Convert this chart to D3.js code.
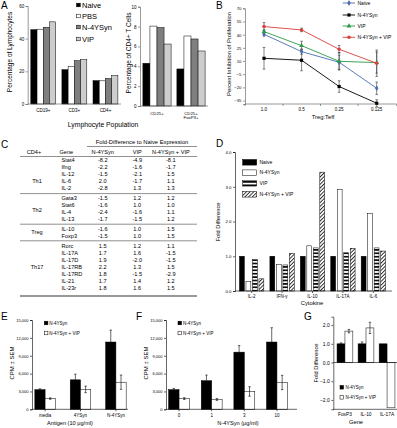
<!DOCTYPE html>
<html>
<head>
<meta charset="utf-8">
<script src="https://cdn.jsdelivr.net/npm/d3@7"></script>
<style>
body{margin:0;background:#fff}
svg text{font-family:"Liberation Sans",Arial,sans-serif;fill:#000}
</style>
</head>
<body>
<svg id="fig" width="397" height="428"></svg>
<script>
// ---- data ----
const aSeries = ["Naive","PBS","N-4YSyn","VIP"];
const lymphCats = ["CD19+","CD3+","CD4+"];
const lymNaive = [45.5,21,14.3];
const lymPBS = [45.8,23,14.2];
const lymN4 = [47,26.5,15.6];
const lymVIP = [50.3,27.1,17.4];
const cd4Cats = ["CD25+","CD25+ FoxP3+"];
const cd4Naive = [4.3,3.73];
const cd4PBS = [8.05,7.05];
const cd4N4 = [7.9,6.75];
const cd4VIP = [6.24,5.54];

const ratios = ["1.0","0.5","0.25","0.125"];
const bSeries = ["Naive","N-4YSyn","VIP","N-4YSyn + VIP"];
const inhNaive = [40.4,20.7,8.6,-21];
const inhN4 = [13.1,10.9,-19,-38];
const inhVIP = [43.5,27.5,9.7,8.2];
const inhCombo = [49.2,45.4,23.4,7.5];
const errNaive = [2,3,8,7];
const errN4 = [12.3,12,6.6,4];
const errVIP = [2,5,10,12];
const errCombo = [4.5,2,4.3,15];

const cols = ["N-4YSyn","VIP","N-4YSyn + VIP"];
const groupNames = ["Th1","Th2","Treg","Th17"];
const genes = [["Stat4","Ifng","IL-12","IL-6","IL-2"],["Gata3","Stat6","IL-4","IL-13"],["IL-10","Foxp3"],
  ["Rorc","IL-17A","IL-17D","IL-17RB","IL-17RD","IL-21","IL-23r"]];
const foldN4 = ["-8.2","-2.2","-1.5","2.0","-2.8","-1.5","-1.6","-2.4","-1.7","-1.6","-1.5","1.5","1.7","1.9","2.2","1.8","1.7","1.8"];
const foldVIP = ["-4.9","-1.6","-2.1","-1.7","1.3","1.2","1.0","-1.6","-1.5","1.0","1.0","1.2","1.6","-2.0","1.3","-1.5","1.4","1.6"];
const foldCombo = ["-8.1","-1.7","1.5","1.1","1.3","1.2","1.0","1.1","1.2","1.5","1.5","1.1","-1.5","-1.5","1.5","-2.9","1.2","1.5"];

const cytokines = ["IL-2","IFN-γ","IL-10","IL-17A","IL-6"];
const dSeries = ["Naive","N-4YSyn","VIP","N-4YSyn + VIP"];
const cytNaive = [1,1,1,1,1];
const cytN4 = [0.28,0.77,1.3,2.92,2.23];
const cytVIP = [0.9,0.75,1.24,1.1,1.24];
const cytCombo = [0.35,1.08,3.42,1.23,1.15];

const efSeries = ["N-4YSyn","N-4YSyn + VIP"];
const antigens = ["media","4YSyn","N-4YSyn"];
const cpmN4E = [3300,4950,11300], semN4E = [150,950,2000];
const cpmComboE = [1800,3350,4550], semComboE = [120,550,1200];
const doses = ["0","1","3","10"];
const cpmN4F = [3300,4800,9600,11300], semN4F = [200,950,1100,2400];
const cpmComboF = [1800,1650,3000,4500], semComboF = [150,150,800,1200];

const gGenes = ["FoxP3","IL-10","IL-17A"];
const gN4 = [1.0,1.0,1.0], gN4Err = [0.05,0.1,0];
const gCombo = [1.68,1.85,-2.42], gComboErr = [0.09,0.3,0];

// ---- drawing ----
const svg = d3.select("#fig");
const defs = svg.append("defs");
const hs = defs.append("pattern").attr("id","hstripe").attr("patternUnits","userSpaceOnUse").attr("width",4).attr("height",3.4);
hs.append("rect").attr("width",4).attr("height",3.4).attr("fill","#fff");
hs.append("rect").attr("y",0.9).attr("width",4).attr("height",1.6).attr("fill","#000");
const hp = defs.append("pattern").attr("id","hatch").attr("patternUnits","userSpaceOnUse").attr("width",2.6).attr("height",2.6).attr("patternTransform","rotate(45)");
hp.append("rect").attr("width",2.6).attr("height",2.6).attr("fill","#fff");
hp.append("line").attr("x1",0.5).attr("y1",0).attr("x2",0.5).attr("y2",2.6).attr("stroke","#000").attr("stroke-width",0.8);

function txt(x,y,s,fs,anchor,rot){
  const t = svg.append("text").attr("x",x).attr("y",y).attr("dy","0.35em")
    .style("font-size",fs+"px").attr("text-anchor",anchor||"start").text(s);
  if(rot) t.attr("transform","rotate("+rot+","+x+","+y+")");
  return t;
}
function hline(x1,x2,y,col,w){ svg.append("line").attr("x1",x1).attr("x2",x2).attr("y1",y).attr("y2",y).attr("stroke",col||"#000").attr("stroke-width",w||0.6); }
function styleAxis(g,fs,col){
  g.attr("font-family",null).attr("font-size",null);
  g.selectAll("text").style("font-size",fs+"px");
  g.selectAll("path,line").attr("stroke",col).attr("stroke-width",0.6);
}
function leftAxis(scale,x,ticks,fs,fmt,col){
  const ax = d3.axisLeft(scale).tickValues(ticks).tickSize(2).tickPadding(1.5);
  if(fmt) ax.tickFormat(fmt);
  const g = svg.append("g").attr("transform","translate("+x+",0)").call(ax);
  styleAxis(g,fs,col||"#000");
  return g;
}
function panelLetter(x,y,s){ txt(x,y,s,10,"start"); }

// Panel A left
panelLetter(1,5,"A");
const aFill = ["#000","#fff","#7f7f7f","#cdcdcd"];
const xA = d3.scaleBand().domain(lymphCats).range([27.7,121]).paddingInner(0.2).paddingOuter(0.1);
const xAin = d3.scaleBand().domain(aSeries).range([0,xA.bandwidth()]);
const yA = d3.scaleLinear().domain([0,60]).range([104,6]);
[lymNaive,lymPBS,lymN4,lymVIP].forEach((vals,i)=>{
  svg.append("g").selectAll("rect").data(vals).join("rect")
    .attr("x",(d,j)=>xA(lymphCats[j])+xAin(aSeries[i])).attr("width",xAin.bandwidth())
    .attr("y",d=>yA(d)).attr("height",d=>yA(0)-yA(d))
    .attr("fill",aFill[i]).attr("stroke","#000").attr("stroke-width",0.5);
});
leftAxis(yA,27.7,[0,20,40,60],4.5,null,"#555");
hline(27.7,121,104,"#555");
lymphCats.forEach(c=>txt(xA(c)+xA.bandwidth()/2,110.5,c,4.5,"middle"));
txt(10,52,"Percentage of Lymphocytes",6.5,"middle",-90);
txt(103,125,"Lymphocyte Population",6.8,"middle");
aSeries.forEach((s,i)=>{
  const y = [5,16,27,39][i];
  svg.append("rect").attr("x",76.5).attr("y",y-1.8).attr("width",3.8).attr("height",3.6)
    .attr("fill",aFill[i]).attr("stroke","#000").attr("stroke-width",0.5);
  txt(82,y,s,7.5,"start");
});

// Panel A right
const xA2 = d3.scaleBand().domain(cd4Cats).range([140,208]).paddingInner(0.17).paddingOuter(0.085);
const xA2in = d3.scaleBand().domain(aSeries).range([0,xA2.bandwidth()]);
const yA2 = d3.scaleLinear().domain([0,10]).range([106,6.7]);
[cd4Naive,cd4PBS,cd4N4,cd4VIP].forEach((vals,i)=>{
  svg.append("g").selectAll("rect").data(vals).join("rect")
    .attr("x",(d,j)=>xA2(cd4Cats[j])+xA2in(aSeries[i])).attr("width",xA2in.bandwidth())
    .attr("y",d=>yA2(d)).attr("height",d=>yA2(0)-yA2(d))
    .attr("fill",aFill[i]).attr("stroke","#000").attr("stroke-width",0.5);
});
leftAxis(yA2,140,[0,2,4,6,8,10],4.5,null,"#555");
hline(140,208,106,"#555");
txt(xA2(cd4Cats[0])+xA2.bandwidth()/2,113,"CD25+",4.3,"middle");
txt(xA2(cd4Cats[1])+xA2.bandwidth()/2,113,"CD25+",4.3,"middle");
txt(xA2(cd4Cats[1])+xA2.bandwidth()/2,117.5,"FoxP3+",4.3,"middle");
txt(128.5,53,"Percentage of CD4+ T Cells",6.5,"middle",-90);

// Panel B
panelLetter(216,5,"B");
const bColors = ["#4a6cb3","#000","#2a9a47","#d8403a"];
const bSymbols = [d3.symbolDiamond,d3.symbolSquare,d3.symbolTriangle,d3.symbolCircle];
const xB = d3.scalePoint().domain(ratios).range([264,376.7]);
const yB = d3.scaleLinear().domain([-38.9,70]).range([104,8.3]);
leftAxis(yB,245,[-35,-20,-5,10,25,40,55,70],4.3,null,"#555");
hline(245,396.7,104,"#555");
[245,283,320.5,358,396.7].forEach(x=>svg.append("line").attr("x1",x).attr("x2",x).attr("y1",104).attr("y2",106).attr("stroke","#555").attr("stroke-width",0.6));
ratios.forEach(r=>txt(xB(r),109.5,r,4.5,"middle"));
txt(323,116.5,"Treg:Teff",5.8,"middle");
txt(228.5,54,"Percent Inhibition of Proliferation",5.8,"middle",-90);
const bVals = [inhNaive,inhN4,inhVIP,inhCombo];
const bErrs = [errNaive,errN4,errVIP,errCombo];
bVals.forEach((vals,i)=>{
  vals.forEach((v,j)=>{
    const x = xB(ratios[j]), e = bErrs[i][j];
    const g = svg.append("g").attr("stroke","#333").attr("stroke-width",0.6);
    g.append("line").attr("x1",x).attr("x2",x).attr("y1",yB(v-e)).attr("y2",yB(v+e));
    g.append("line").attr("x1",x-1.3).attr("x2",x+1.3).attr("y1",yB(v-e)).attr("y2",yB(v-e));
    g.append("line").attr("x1",x-1.3).attr("x2",x+1.3).attr("y1",yB(v+e)).attr("y2",yB(v+e));
  });
});
const lineB = d3.line().x((d,j)=>xB(ratios[j])).y(d=>yB(d));
bVals.forEach((vals,i)=>{
  svg.append("path").datum(vals).attr("d",lineB).attr("fill","none").attr("stroke",bColors[i]).attr("stroke-width",0.9);
  svg.append("g").selectAll("path").data(vals).join("path")
    .attr("d",d3.symbol().type(bSymbols[i]).size(10))
    .attr("transform",(d,j)=>"translate("+xB(ratios[j])+","+yB(d)+")")
    .attr("fill",bColors[i]);
});
bSeries.forEach((s,i)=>{
  const y = [3,15,26,37.3][i];
  svg.append("line").attr("x1",342.7).attr("x2",355).attr("y1",y).attr("y2",y).attr("stroke",bColors[i]).attr("stroke-width",0.9);
  svg.append("path").attr("d",d3.symbol().type(bSymbols[i]).size(10)).attr("transform","translate(349,"+y+")").attr("fill",bColors[i]);
  txt(357.5,y,s,5,"start");
});

// Panel C (table)
panelLetter(1,144,"C");
txt(142,142,"Fold-Difference to Naive Expression",5.8,"middle");
hline(87,197,146.5,"#444");
txt(34,152,"CD4+",5.6,"middle");
txt(59.5,152,"Gene",5.6,"start");
const colX = [102.7,137.2,170.8];
cols.forEach((c,k)=>txt(colX[k],152,c,5.6,"middle"));
hline(20,197,156.5,"#444");
const rowY = [160,167.1,174.2,181.3,188.3,198.3,205.1,212.1,219,229,235.8,246,252.9,260,267,274.2,281.3,288.5];
const groupY = [181.5,210,232.5,267];
const sepY = [193.6,224.2,240.8];
const foldCols = [foldN4,foldVIP,foldCombo];
let r = 0;
genes.forEach((gs,gi)=>{
  txt(37,groupY[gi],groupNames[gi],5.6,"middle");
  gs.forEach(g=>{
    txt(61.5,rowY[r],g,5.6,"start");
    foldCols.forEach((fc,k)=>txt(colX[k],rowY[r],fc[r],5.6,"middle"));
    r++;
  });
  if(gi<sepY.length) hline(20,197,sepY[gi],"#444");
});
hline(20,197,296,"#333",1.1);

// Panel D
panelLetter(216,143,"D");
const dFill = ["#000","#fff","url(#hstripe)","url(#hatch)"];
const xD = d3.scaleBand().domain(cytokines).range([234,391]).paddingInner(0.2).paddingOuter(0.18);
const xDin = d3.scaleBand().domain(dSeries).range([0,xD.bandwidth()]).paddingInner(0.25);
const yD = d3.scaleLinear().domain([0,4]).range([291,152]);
[cytNaive,cytN4,cytVIP,cytCombo].forEach((vals,i)=>{
  svg.append("g").selectAll("rect").data(vals).join("rect")
    .attr("x",(d,j)=>xD(cytokines[j])+xDin(dSeries[i])).attr("width",xDin.bandwidth())
    .attr("y",d=>yD(d)).attr("height",d=>yD(0)-yD(d))
    .attr("fill",dFill[i]).attr("stroke","#000").attr("stroke-width",0.5);
});
leftAxis(yD,235,[0,1,2,3,4],4.3);
hline(235,392,291);
cytokines.forEach(c=>{
  const x = xD(c)+xD.bandwidth()/2;
  svg.append("line").attr("x1",x).attr("x2",x).attr("y1",291).attr("y2",293).attr("stroke","#000").attr("stroke-width",0.6);
  txt(x,296,c,4.5,"middle");
});
txt(312,303,"Cytokine",5.8,"middle");
txt(218,222,"Fold Difference",5.8,"middle",-90);
dSeries.forEach((s,i)=>{
  const y = [162.3,172.7,183.3,194.3][i];
  svg.append("rect").attr("x",242.7).attr("y",y-2.8).attr("width",14).attr("height",5.6)
    .attr("fill",dFill[i]).attr("stroke","#000").attr("stroke-width",0.5);
  txt(259.5,y,s,5,"start");
});

// Panels E and F
const yEF = d3.scaleLinear().domain([0,15000]).range([409.3,320]);
function cpmPanel(letterX,axisX,axisEnd,cats,range,pad,v1,e1,v2,e2,title,titleX,legX){
  panelLetter(letterX,316,letterX<100?"E":"F");
  const x = d3.scaleBand().domain(cats).range(range).paddingInner(pad).paddingOuter(0.08);
  const xin = d3.scaleBand().domain(efSeries).range([0,x.bandwidth()]);
  [[v1,e1],[v2,e2]].forEach(([vals,errs],i)=>{
    svg.append("g").selectAll("rect").data(vals).join("rect")
      .attr("x",(d,j)=>x(cats[j])+xin(efSeries[i])).attr("width",xin.bandwidth())
      .attr("y",d=>yEF(d)).attr("height",d=>yEF(0)-yEF(d))
      .attr("fill",i?"#fff":"#000").attr("stroke","#000").attr("stroke-width",0.5);
    vals.forEach((v,j)=>{
      const cx = x(cats[j])+xin(efSeries[i])+xin.bandwidth()/2;
      const g = svg.append("g").attr("stroke","#000").attr("stroke-width",0.6);
      g.append("line").attr("x1",cx).attr("x2",cx).attr("y1",yEF(v-(i?errs[j]:0))).attr("y2",yEF(v+errs[j]));
      g.append("line").attr("x1",cx-1.2).attr("x2",cx+1.2).attr("y1",yEF(v+errs[j])).attr("y2",yEF(v+errs[j]));
      if(i) g.append("line").attr("x1",cx-1.2).attr("x2",cx+1.2).attr("y1",yEF(v-errs[j])).attr("y2",yEF(v-errs[j]));
    });
  });
  leftAxis(yEF,axisX,[0,3000,6000,9000,12000,15000],4);
  hline(axisX,axisEnd,409.3);
  cats.forEach(c=>{
    const cx = x(c)+x.bandwidth()/2;
    svg.append("line").attr("x1",cx).attr("x2",cx).attr("y1",409.3).attr("y2",411.3).attr("stroke","#000").attr("stroke-width",0.6);
    txt(cx,415.5,c,4.5,"middle");
  });
  txt(titleX,423.5,title,5.6,"middle");
  txt(axisX-20,363,"CPM ± SEM",6,"middle",-90);
  efSeries.forEach((s,i)=>{
    const y = [323,333][i];
    svg.append("rect").attr("x",legX).attr("y",y-1.8).attr("width",3.6).attr("height",3.6)
      .attr("fill",i?"#fff":"#000").attr("stroke","#000").attr("stroke-width",0.5);
    txt(legX+5,y,s,4.5,"start");
  });
}
cpmPanel(1,32,128,antigens,[32,129],0.42,cpmN4E,semN4E,cpmComboE,semComboE,"Antigen (10 μg/ml)",70,44.3);
cpmPanel(136,166,297,doses,[166,290],0.36,cpmN4F,semN4F,cpmComboF,semComboF,"N-4YSyn (μg/ml)",238,178);

// Panel G
panelLetter(304,316,"G");
const xG = d3.scaleBand().domain(gGenes).range([336,396]).paddingInner(0.25).paddingOuter(0.05);
const xGin = d3.scaleBand().domain(efSeries).range([0,xG.bandwidth()]);
const yG = d3.scaleLinear().domain([-2.5,2.45]).range([409.3,316.7]);
[[gN4,gN4Err],[gCombo,gComboErr]].forEach(([vals,errs],i)=>{
  svg.append("g").selectAll("rect").data(vals).join("rect")
    .attr("x",(d,j)=>xG(gGenes[j])+xGin(efSeries[i])).attr("width",xGin.bandwidth())
    .attr("y",d=>yG(Math.max(0,d))).attr("height",d=>Math.abs(yG(d)-yG(0)))
    .attr("fill",i?"#fff":"#000").attr("stroke","#000").attr("stroke-width",0.5);
  vals.forEach((v,j)=>{
    if(!errs[j]) return;
    const cx = xG(gGenes[j])+xGin(efSeries[i])+xGin.bandwidth()/2;
    const g = svg.append("g").attr("stroke","#000").attr("stroke-width",0.6);
    g.append("line").attr("x1",cx).attr("x2",cx).attr("y1",yG(v-errs[j])).attr("y2",yG(v+errs[j]));
    g.append("line").attr("x1",cx-1.2).attr("x2",cx+1.2).attr("y1",yG(v+errs[j])).attr("y2",yG(v+errs[j]));
    g.append("line").attr("x1",cx-1.2).attr("x2",cx+1.2).attr("y1",yG(v-errs[j])).attr("y2",yG(v-errs[j]));
  });
});
leftAxis(yG,333.3,[-2,-1,0,1,2],5,d3.format(".1f"));
hline(333.3,397,yG(0));
hline(333.3,397,409.3);
gGenes.forEach(c=>txt(xG(c)+xG.bandwidth()/2,414.5,c,4.8,"middle"));
txt(356,422,"Gene",5.8,"middle");
txt(315.5,363,"Fold Difference",5.8,"middle",-90);
efSeries.forEach((s,i)=>{
  const y = [387.3,397.3][i];
  svg.append("rect").attr("x",340).attr("y",y-1.8).attr("width",3.6).attr("height",3.6)
    .attr("fill",i?"#fff":"#000").attr("stroke","#000").attr("stroke-width",0.5);
  txt(345.5,y,s,4.5,"start");
});
</script>
</body>
</html>
